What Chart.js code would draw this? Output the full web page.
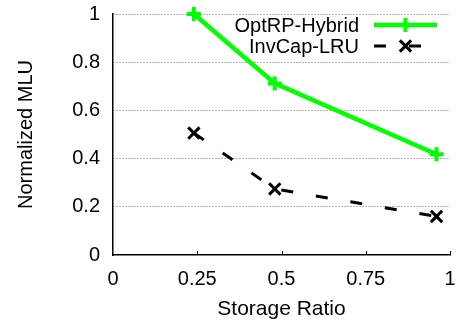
<!DOCTYPE html>
<html>
<head>
<meta charset="utf-8">
<script src="https://cdn.jsdelivr.net/npm/chart.js@4"></script>
<style>
  html, body { margin: 0; padding: 0; background: #fff; }
</style>
</head>
<body>
<canvas id="chart" width="459" height="326"></canvas>
<script>
// values
var storageRatio = [0.24, 0.48, 0.96];
var optrpHybrid = [1.0, 0.712, 0.418];
var invcapLru = [0.506, 0.274, 0.16];
var seriesNames = ['OptRP-Hybrid', 'InvCap-LRU'];
var xTicks = [0, 0.25, 0.5, 0.75, 1];
var yTicks = [0, 0.2, 0.4, 0.6, 0.8, 1];

var FONT = '"Liberation Sans", Arial, Helvetica, sans-serif';

function points(ys) {
  return storageRatio.map(function(x, i) { return {x: x, y: ys[i]}; });
}

function drawMarker(ctx, style, x, y, r) {
  ctx.beginPath();
  if (style === 'cross') {
    ctx.moveTo(x - r, y); ctx.lineTo(x + r, y);
    ctx.moveTo(x, y - r); ctx.lineTo(x, y + r);
  } else {
    var d = r * 0.7071;
    ctx.moveTo(x - d, y - d); ctx.lineTo(x + d, y + d);
    ctx.moveTo(x - d, y + d); ctx.lineTo(x + d, y - d);
  }
  ctx.stroke();
}

// gnuplot style legend: text right, sample line on the right
var keyPlugin = {
  id: 'key',
  afterDraw: function(chart) {
    var ctx = chart.ctx;
    ctx.save();
    ctx.font = '20px ' + FONT;
    ctx.textAlign = 'right';
    ctx.textBaseline = 'middle';
    chart.data.datasets.forEach(function(ds, i) {
      var y = 25 + i * 21;
      ctx.fillStyle = '#000';
      ctx.fillText(ds.label, 359, y + 1);
      ctx.strokeStyle = ds.borderColor;
      ctx.lineWidth = ds.borderWidth;
      ctx.setLineDash(ds.borderDash || []);
      ctx.beginPath();
      ctx.moveTo(374, y);
      ctx.lineTo(437, y);
      ctx.stroke();
      ctx.setLineDash([]);
      ctx.lineWidth = ds.pointBorderWidth;
      drawMarker(ctx, ds.pointStyle, 405.5, y, ds.pointRadius);
    });
    ctx.restore();
  }
};

// small inward ticks on the bottom axis
var innerTicks = {
  id: 'innerTicks',
  afterDraw: function(chart) {
    var ctx = chart.ctx, xs = chart.scales.x, a = chart.chartArea;
    ctx.save();
    ctx.strokeStyle = '#000';
    ctx.lineWidth = 1;
    ctx.beginPath();
    xTicks.slice(1).forEach(function(v) {
      var px = Math.round(xs.getPixelForValue(v)) + 0.5;
      ctx.moveTo(px, a.bottom);
      ctx.lineTo(px, a.bottom - 4);
    });
    ctx.stroke();
    ctx.restore();
  }
};

function plain(v) { return String(v); }

new Chart(document.getElementById('chart'), {
  type: 'line',
  data: {
    datasets: [{
      label: seriesNames[0],
      data: points(optrpHybrid),
      borderColor: '#00ff00',
      backgroundColor: '#00ff00',
      borderWidth: 4.5,
      pointStyle: 'cross',
      pointRadius: 7,
      pointBorderWidth: 4,
      pointBorderColor: '#00ff00',
      tension: 0,
      clip: false
    }, {
      label: seriesNames[1],
      data: points(invcapLru),
      borderColor: '#000',
      backgroundColor: '#000',
      borderWidth: 3,
      borderDash: [12, 23],
      pointStyle: 'crossRot',
      pointRadius: 8,
      pointBorderWidth: 3,
      pointBorderColor: '#000',
      tension: 0,
      clip: false
    }]
  },
  options: {
    responsive: false,
    animation: false,
    devicePixelRatio: 1,
    layout: { autoPadding: false, padding: { top: 14, right: 9, left: 0, bottom: 0 } },
    plugins: {
      legend: { display: false },
      tooltip: { enabled: false }
    },
    scales: {
      x: {
        type: 'linear',
        min: 0,
        max: 1,
        afterFit: function(s) { s.height = 71; s.paddingLeft = 0; s.paddingRight = 0; },
        afterBuildTicks: function(s) { s.ticks = xTicks.map(function(v) { return {value: v}; }); },
        ticks: { font: { family: FONT, size: 20 }, color: '#000', padding: 12, callback: plain },
        grid: { display: false, drawTicks: false },
        border: { display: true, color: '#000', width: 1.5 },
        title: {
          display: true,
          text: 'Storage Ratio',
          font: { family: FONT, size: 21 },
          color: '#000',
          padding: { top: 0, bottom: 4 }
        }
      },
      y: {
        type: 'linear',
        min: 0,
        max: 1,
        afterFit: function(s) { s.width = 113; s.paddingTop = 0; s.paddingBottom = 0; },
        afterBuildTicks: function(s) { s.ticks = yTicks.map(function(v) { return {value: v}; }); },
        ticks: { font: { family: FONT, size: 20 }, color: '#000', padding: 13, callback: plain },
        grid: {
          drawTicks: false,
          lineWidth: 1,
          color: function(c) { return c.tick && c.tick.value === 0 ? 'rgba(0,0,0,0)' : '#666'; }
        },
        border: { display: true, color: '#000', width: 1.5, dash: [1, 2] },
        title: {
          display: true,
          text: 'Normalized MLU',
          font: { family: FONT, size: 20 },
          color: '#000',
          padding: { top: 14, bottom: 0 }
        }
      }
    }
  },
  plugins: [keyPlugin, innerTicks]
});
</script>
</body>
</html>
